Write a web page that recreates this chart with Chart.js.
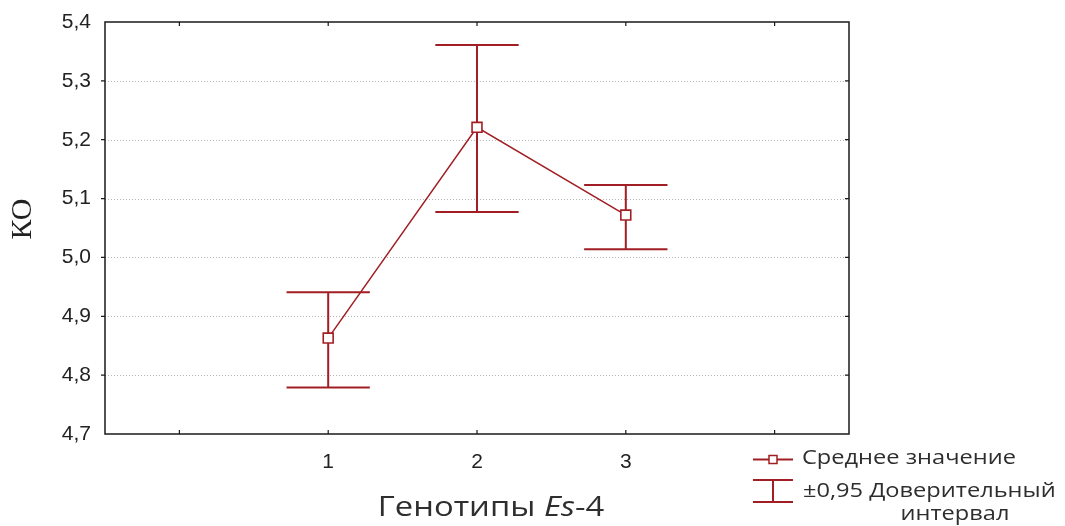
<!DOCTYPE html>
<html>
<head>
<meta charset="utf-8">
<script src="https://cdn.jsdelivr.net/npm/chart.js@4/dist/chart.umd.min.js"></script>
<style>
  html, body { margin: 0; padding: 0; background: #fff; }
  #wrap { width: 1065px; height: 526px; }
</style>
</head>
<body>
<div id="wrap"><canvas id="c" width="1065" height="526"></canvas></div>
<script>
// Genotype groups (Es-4) and the КО means with 95% confidence limits
const categories = [1, 2, 3];
const means = [4.863, 5.221, 5.072];
const ciLow = [4.779, 5.077, 5.014];
const ciHigh = [4.941, 5.361, 5.123];

// Axis ticks and labels
const xTickValues = [0, 1, 2, 3, 4];
const xTickLabels = ['', '1', '2', '3', ''];
const yTickValues = [4.7, 4.8, 4.9, 5.0, 5.1, 5.2, 5.3, 5.4];
const yTickLabels = ['4,7', '4,8', '4,9', '5,0', '5,1', '5,2', '5,3', '5,4'];

// Text
const yTitle = 'КО';
const xTitleParts = [['Генотипы ', false], ['Es', true], ['-4', false]];
const legendMean = 'Среднее значение';
const legendCI = ['±0,95 Доверительный', 'интервал'];

const RED = '#a11f24';
const CAP_HALF = 0.28; // half-width of whisker caps, in x units

// draws text widened horizontally by factor sx, anchored at (x, y)
function wideText(ctx, text, x, y, sx, align) {
  ctx.save();
  ctx.translate(x, y);
  ctx.scale(sx, 1);
  ctx.textAlign = align || 'left';
  ctx.fillText(text, 0, 0);
  ctx.restore();
}

const errorBars = {
  id: 'errorBars',
  beforeDatasetsDraw(chart) {
    const { ctx, scales: { x, y } } = chart;
    ctx.save();
    ctx.strokeStyle = RED;
    ctx.lineWidth = 2;
    categories.forEach((c, i) => {
      const px = x.getPixelForValue(c);
      const hw = x.getPixelForValue(c + CAP_HALF) - px;
      const yl = y.getPixelForValue(ciLow[i]);
      const yh = y.getPixelForValue(ciHigh[i]);
      ctx.beginPath();
      ctx.moveTo(px, yl); ctx.lineTo(px, yh);
      ctx.moveTo(px - hw, yh); ctx.lineTo(px + hw, yh);
      ctx.moveTo(px - hw, yl); ctx.lineTo(px + hw, yl);
      ctx.stroke();
    });
    ctx.restore();
  }
};

const frame = {
  id: 'frame',
  beforeDatasetsDraw(chart) {
    const { ctx, chartArea: a, scales: { x, y } } = chart;
    ctx.save();
    // dotted horizontal grid
    ctx.strokeStyle = '#b4b4b4';
    ctx.lineWidth = 1;
    ctx.setLineDash([1, 2]);
    yTickValues.slice(1, -1).forEach(v => {
      const py = Math.round(y.getPixelForValue(v)) + 0.5;
      ctx.beginPath(); ctx.moveTo(a.left, py); ctx.lineTo(a.right, py); ctx.stroke();
    });
    ctx.setLineDash([]);
    // box
    ctx.strokeStyle = '#1a1a1a';
    ctx.lineWidth = 1.5;
    ctx.strokeRect(a.left, a.top, a.right - a.left, a.bottom - a.top);
    // tick marks
    ctx.lineWidth = 1.2;
    ctx.beginPath();
    yTickValues.slice(1, -1).forEach(v => {
      const py = y.getPixelForValue(v);
      ctx.moveTo(a.left - 4, py); ctx.lineTo(a.left, py);
      ctx.moveTo(a.right, py); ctx.lineTo(a.right - 4, py);
    });
    xTickValues.forEach(v => {
      const px = x.getPixelForValue(v);
      ctx.moveTo(px, a.bottom); ctx.lineTo(px, a.bottom - 4);
      ctx.moveTo(px, a.top); ctx.lineTo(px, a.top + 4);
    });
    ctx.stroke();
    ctx.restore();
  },
  afterDraw(chart) {
    const { ctx } = chart;
    ctx.save();
    // y title
    ctx.fillStyle = '#222';
    ctx.font = '30px "Liberation Serif", "DejaVu Serif", serif';
    ctx.textAlign = 'center';
    ctx.textBaseline = 'middle';
    ctx.translate(23, 219);
    ctx.rotate(-Math.PI / 2);
    ctx.fillText(yTitle, 0, 0);
    ctx.restore();

    // x title with italic gene symbol
    ctx.save();
    ctx.fillStyle = '#2e2e2e';
    ctx.textBaseline = 'alphabetic';
    const sx = 1.17;
    const fnt = it => (it ? 'italic ' : '') + '28px "Open Sans", "Noto Sans", sans-serif';
    let total = 0;
    xTitleParts.forEach(([t, it]) => { ctx.font = fnt(it); total += ctx.measureText(t).width * sx; });
    let tx = 491 - total / 2;
    xTitleParts.forEach(([t, it]) => {
      ctx.font = fnt(it);
      wideText(ctx, t, tx, 516, sx);
      tx += ctx.measureText(t).width * sx;
    });
    ctx.restore();

    // legend
    ctx.save();
    ctx.strokeStyle = RED;
    ctx.lineWidth = 2;
    ctx.beginPath();
    ctx.moveTo(753, 459.5); ctx.lineTo(793, 459.5);
    ctx.moveTo(753, 480); ctx.lineTo(793, 480);
    ctx.moveTo(753, 502); ctx.lineTo(793, 502);
    ctx.moveTo(773, 480); ctx.lineTo(773, 502);
    ctx.stroke();
    ctx.fillStyle = '#fff';
    ctx.lineWidth = 1.5;
    ctx.fillRect(769, 455.5, 8, 8);
    ctx.strokeRect(769, 455.5, 8, 8);

    ctx.fillStyle = '#2e2e2e';
    ctx.font = '20px "Open Sans", "Noto Sans", sans-serif';
    ctx.textBaseline = 'middle';
    const lx = 1.18;
    wideText(ctx, legendMean, 802, 458, lx, 'left');
    wideText(ctx, legendCI[0], 803, 491, lx, 'left');
    wideText(ctx, legendCI[1], 955, 514, lx, 'center');
    ctx.restore();
  }
};

new Chart(document.getElementById('c'), {
  type: 'line',
  data: {
    datasets: [{
      label: legendMean,
      data: categories.map((c, i) => ({ x: c, y: means[i] })),
      borderColor: RED,
      borderWidth: 1.5,
      pointStyle: 'rect',
      pointRadius: 7,
      pointHoverRadius: 7,
      pointBackgroundColor: '#fff',
      pointBorderColor: RED,
      pointBorderWidth: 1.6,
      tension: 0
    }]
  },
  options: {
    responsive: false,
    animation: false,
    events: [],
    layout: { padding: { left: 0, right: 216, top: 22, bottom: 0 } },
    plugins: { legend: { display: false }, tooltip: { enabled: false } },
    scales: {
      x: {
        type: 'linear',
        min: -0.5,
        max: 4.5,
        afterBuildTicks: s => { s.ticks = xTickValues.map(v => ({ value: v })); },
        afterFit: s => { s.height = 92; s.paddingLeft = 0; s.paddingRight = 0; },
        grid: { display: false, drawTicks: false },
        border: { display: false },
        ticks: {
          autoSkip: false,
          maxRotation: 0,
          padding: 16,
          color: '#222',
          font: { family: '"Liberation Sans", Arial, sans-serif', size: 21 },
          callback: (v, i) => xTickLabels[i]
        }
      },
      y: {
        type: 'linear',
        min: 4.7,
        max: 5.4,
        afterBuildTicks: s => { s.ticks = yTickValues.map(v => ({ value: v })); },
        afterFit: s => { s.width = 105; s.paddingTop = 0; s.paddingBottom = 0; },
        grid: { display: false, drawTicks: false },
        border: { display: false },
        ticks: {
          autoSkip: false,
          padding: 14,
          color: '#222',
          font: { family: '"Liberation Sans", Arial, sans-serif', size: 21 },
          callback: (v, i) => yTickLabels[i]
        }
      }
    }
  },
  plugins: [frame, errorBars]
});
</script>
</body>
</html>
